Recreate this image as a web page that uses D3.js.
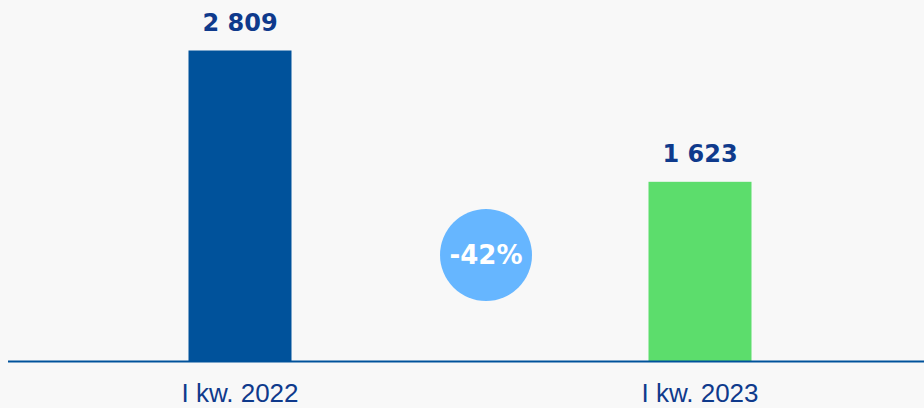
<!DOCTYPE html>
<html>
<head>
<meta charset="utf-8">
<script src="https://cdn.jsdelivr.net/npm/d3@7"></script>
<style>
  html, body { margin: 0; padding: 0; background: #f8f8f8; }
  svg { display: block; }
</style>
</head>
<body>
<svg id="chart" width="924" height="408"></svg>
<script>
// data
const categories = ["I kw. 2022", "I kw. 2023"];
const values = [2809, 1623];
const valueLabels = ["2 809", "1 623"];
const changeLabel = "-42%";

const COLORS = ["#00529b", "#5cdd6c"];
const NAVY = "#0f3a8c";

const width = 924, height = 408;
const baseY = 361.5;

const svg = d3.select("#chart");

svg.append("rect")
  .attr("width", width)
  .attr("height", height)
  .attr("fill", "#f8f8f8");

const x = d3.scalePoint()
  .domain(categories)
  .range([10, 930])
  .padding(0.5);

const y = d3.scaleLinear()
  .domain([0, 3000])
  .range([baseY, baseY - 3000 * (311 / 2809)]);

const barW = 103;

// bars
svg.selectAll("rect.bar")
  .data(values)
  .join("rect")
  .attr("class", "bar")
  .attr("x", (d, i) => x(categories[i]) - barW / 2)
  .attr("y", (d) => y(d))
  .attr("width", barW)
  .attr("height", (d) => y(0) - y(d))
  .attr("fill", (d, i) => COLORS[i]);

// value labels
svg.selectAll("text.val")
  .data(values)
  .join("text")
  .attr("class", "val")
  .attr("x", (d, i) => x(categories[i]))
  .attr("y", (d) => y(d) - 20)
  .attr("text-anchor", "middle")
  .attr("font-family", "'DejaVu Sans', sans-serif")
  .attr("font-weight", 700)
  .attr("font-size", 24)
  .attr("fill", NAVY)
  .text((d, i) => valueLabels[i]);

// axis line
svg.append("line")
  .attr("x1", 8)
  .attr("x2", width)
  .attr("y1", baseY)
  .attr("y2", baseY)
  .attr("stroke", "#00529b")
  .attr("stroke-width", 2);

// category labels
svg.selectAll("text.cat")
  .data(categories)
  .join("text")
  .attr("class", "cat")
  .attr("x", (d) => x(d))
  .attr("y", 402)
  .attr("text-anchor", "middle")
  .attr("font-family", "'Liberation Sans', Arial, sans-serif")
  .attr("font-size", 26)
  .attr("fill", NAVY)
  .text((d) => d);

// change bubble (sits a bit right of the midpoint)
const cx = (x(categories[0]) + x(categories[1])) / 2 + 16;
svg.append("circle")
  .attr("cx", cx)
  .attr("cy", 255)
  .attr("r", 46)
  .attr("fill", "#66b6ff");

svg.append("text")
  .attr("x", cx)
  .attr("y", 264)
  .attr("text-anchor", "middle")
  .attr("font-family", "'DejaVu Sans', sans-serif")
  .attr("font-weight", 700)
  .attr("font-size", 26)
  .attr("fill", "#ffffff")
  .text(changeLabel);
</script>
</body>
</html>
